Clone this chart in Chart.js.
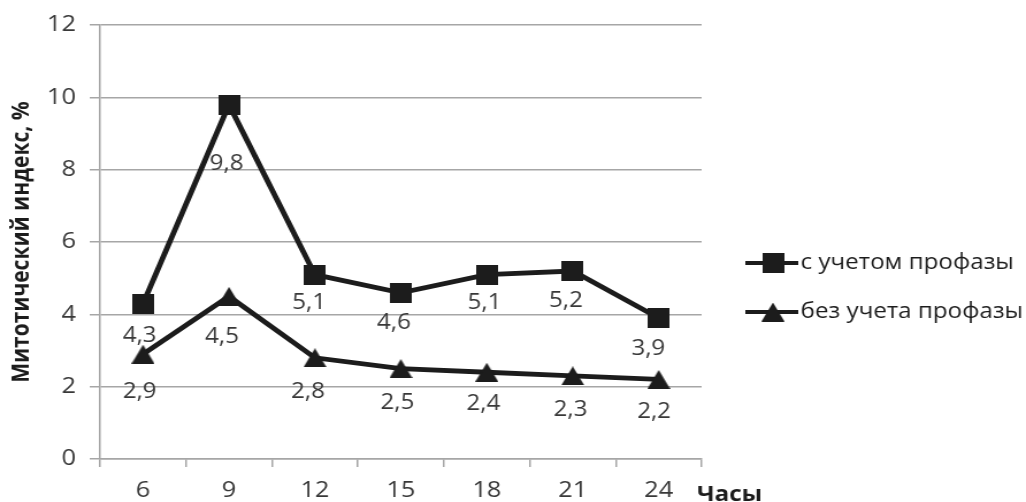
<!DOCTYPE html>
<html lang="ru">
<head>
<meta charset="utf-8">
<title>Митотический индекс</title>
<script src="https://cdn.jsdelivr.net/npm/chart.js@4.4.1/dist/chart.umd.min.js"></script>
<style>
  html, body { margin: 0; padding: 0; background: #ffffff; }
</style>
</head>
<body>
<!-- the drawing surface is rendered narrower and widened by CSS -->
<canvas id="chart" width="892" height="502" style="display:block;width:1026px;height:502px"></canvas>
<script>
// Hours after the start of the experiment
const hours = ['6', '9', '12', '15', '18', '21', '24'];
// Mitotic index, %
const withProphase = [4.3, 9.8, 5.1, 4.6, 5.1, 5.2, 3.9];
const withoutProphase = [2.9, 4.5, 2.8, 2.5, 2.4, 2.3, 2.2];
const seriesNames = ['с учетом профазы', 'без учета профазы'];
const yTickValues = [0, 2, 4, 6, 8, 10, 12];

const axisTitle = 'Митотический индекс, %';
const xAxisName = 'Часы';

const INK = '#1c1c1c';
const TEXT = '#383838';
const GRID = '#a6a6a6';
const FONT = "'Open Sans', 'DejaVu Sans', sans-serif";

// Marker images: filled square and filled triangle
function makeSquare(w, h) {
  const c = document.createElement('canvas');
  c.width = w; c.height = h;
  const g = c.getContext('2d');
  g.fillStyle = INK;
  g.fillRect(0, 0, w, h);
  return c;
}
function makeTriangle(w, h) {
  const c = document.createElement('canvas');
  c.width = w; c.height = h;
  const g = c.getContext('2d');
  g.fillStyle = INK;
  g.beginPath();
  g.moveTo(w / 2, 0);
  g.lineTo(w, h);
  g.lineTo(0, h);
  g.closePath();
  g.fill();
  return c;
}
const squareMarker = makeSquare(19, 20);
const triangleMarker = makeTriangle(20, 19);

// Value label placement below each point [dx, dy]
const labelShift = [
  [[-3, 32], [-2, 59], [-5, 28], [-6, 30], [-2, 28], [-6, 30], [-9, 31]],
  [[-3, 38], [-6, 41], [-6, 34], [-3, 34], [-3, 32], [-2, 34], [-4, 33]]
];

const valueLabels = {
  id: 'valueLabels',
  afterDatasetsDraw(chart) {
    const ctx = chart.ctx;
    ctx.save();
    ctx.font = `21px ${FONT}`;
    ctx.fillStyle = TEXT;
    ctx.textAlign = 'center';
    ctx.textBaseline = 'middle';
    chart.data.datasets.forEach((ds, i) => {
      const meta = chart.getDatasetMeta(i);
      meta.data.forEach((pt, j) => {
        const [dx, dy] = labelShift[i][j];
        const txt = String(ds.data[j]).replace('.', ',');
        ctx.fillText(txt, pt.x + dx, pt.y + dy);
      });
    });
    ctx.restore();
  }
};

// Legend at the right: line with marker, then series name
const sideLegend = {
  id: 'sideLegend',
  afterDraw(chart) {
    const ctx = chart.ctx;
    const rows = [263, 312];
    const x0 = 648, x1 = 694, xm = 672, xt = 696;
    ctx.save();
    chart.data.datasets.forEach((ds, i) => {
      const y = rows[i];
      ctx.strokeStyle = ds.borderColor;
      ctx.lineWidth = 4;
      ctx.beginPath();
      ctx.moveTo(x0, y);
      ctx.lineTo(x1, y);
      ctx.stroke();
      const m = ds.pointStyle;
      ctx.drawImage(m, xm - m.width / 2, y - m.height / 2);
      ctx.font = `21px ${FONT}`;
      ctx.fillStyle = INK;
      ctx.textAlign = 'left';
      ctx.textBaseline = 'middle';
      ctx.fillText(ds.label, xt, y);
    });
    // name of the horizontal axis, right after the last tick label
    ctx.font = `bold 21px ${FONT}`;
    ctx.fillStyle = INK;
    ctx.textAlign = 'left';
    ctx.textBaseline = 'middle';
    ctx.fillText(xAxisName, 606, 495);
    ctx.restore();
  }
};

new Chart(document.getElementById('chart'), {
  type: 'line',
  data: {
    labels: hours,
    datasets: [
      {
        label: seriesNames[0],
        data: withProphase,
        borderColor: INK,
        borderWidth: 4.8,
        pointStyle: squareMarker,
        tension: 0
      },
      {
        label: seriesNames[1],
        data: withoutProphase,
        borderColor: INK,
        borderWidth: 4.8,
        pointStyle: triangleMarker,
        tension: 0
      }
    ]
  },
  options: {
    responsive: false,
    devicePixelRatio: 1,
    animation: false,
    layout: { padding: { top: 24, right: 282, left: 0, bottom: 0 } },
    plugins: {
      legend: { display: false },
      tooltip: { enabled: false }
    },
    scales: {
      x: {
        type: 'category',
        offset: true,
        grid: {
          offset: true,
          drawOnChartArea: false,
          drawTicks: true,
          tickLength: 8,
          color: GRID,
          lineWidth: 1.5
        },
        border: { color: GRID, width: 1.5 },
        ticks: {
          color: TEXT,
          font: { family: FONT, size: 22 },
          padding: 11,
          maxRotation: 0,
          autoSkip: false
        },
        afterFit(scale) { scale.height = 43; }
      },
      y: {
        min: 0,
        max: 12,
        afterBuildTicks(scale) {
          scale.ticks = yTickValues.map(v => ({ value: v }));
        },
        grid: {
          color: GRID,
          lineWidth: 1.5,
          drawTicks: true,
          tickLength: 9
        },
        border: { color: GRID, width: 1.5 },
        ticks: {
          color: TEXT,
          font: { family: FONT, size: 22 },
          padding: 12
        },
        title: {
          display: true,
          text: axisTitle,
          color: INK,
          font: { family: FONT, size: 21, weight: 'bold' },
          padding: { top: 6, bottom: 0 }
        },
        afterFit(scale) { scale.width = 87; }
      }
    }
  },
  plugins: [valueLabels, sideLegend]
});
</script>
</body>
</html>
